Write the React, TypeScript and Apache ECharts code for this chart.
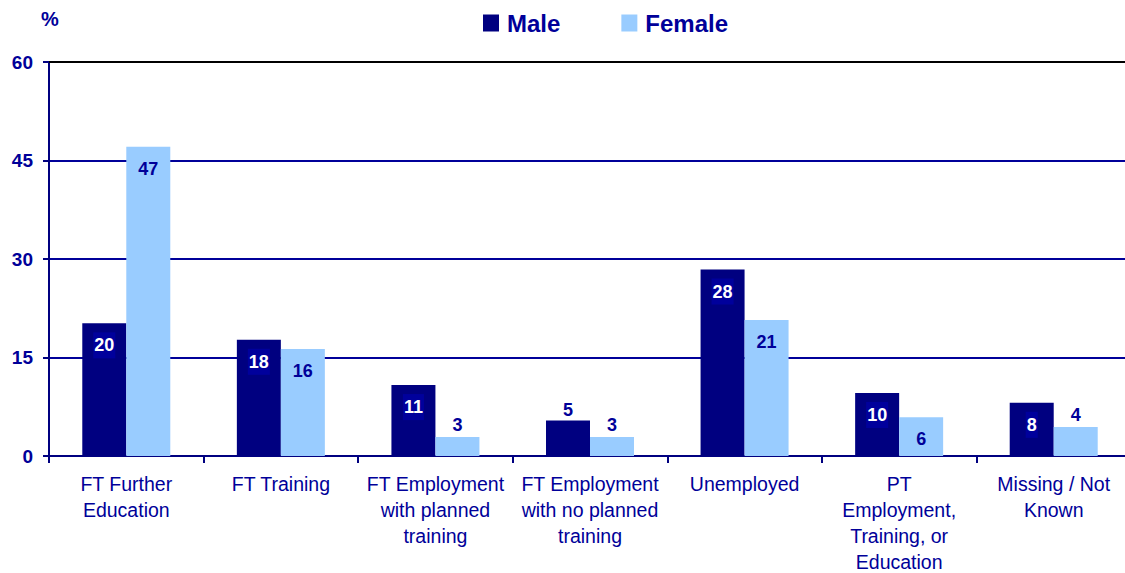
import React, { useEffect, useRef } from "react";
import * as echarts from "echarts";

const categories = [
  "FT Further\nEducation",
  "FT Training",
  "FT Employment\nwith planned\ntraining",
  "FT Employment\nwith no planned\ntraining",
  "Unemployed",
  "PT\nEmployment,\nTraining, or\nEducation",
  "Missing / Not\nKnown",
];
const maleValues = [20.2, 17.7, 10.8, 5.4, 28.4, 9.6, 8.1];
const femaleValues = [47.1, 16.3, 2.9, 2.9, 20.7, 5.9, 4.4];
const maleOutside = [false, false, false, true, false, false, false];
const femaleOutside = [false, false, true, true, false, false, true];
const yTicks = [0, 15, 30, 45, 60];
const yMax = 60;

const NAVY = "#000080";
const TEXT = "#000099";
const LIGHT = "#99CCFF";
const FONT = "Liberation Sans";

export default function App() {
  const ref = useRef<HTMLDivElement>(null);
  useEffect(() => {
    const chart = echarts.init(ref.current!, null, { renderer: "svg" });
    const insideLabel = (color: string, bg?: string) => ({
      show: true,
      position: "insideTop",
      distance: 9,
      color,
      fontSize: 18,
      fontWeight: "bold",
      fontFamily: FONT,
      lineHeight: 18,
      padding: [4, 1],
      backgroundColor: bg || "transparent",
      formatter: (p: any) => String(Math.round(p.value)),
    });
    const outsideLabel = (d: number) => ({
      show: true,
      position: "top",
      distance: d,
      color: TEXT,
      fontSize: 18,
      fontWeight: "bold",
      fontFamily: FONT,
      lineHeight: 18,
      padding: 0,
      backgroundColor: "transparent",
      formatter: (p: any) => String(Math.round(p.value)),
    });
    chart.setOption({
      animation: false,
      textStyle: { fontFamily: FONT },
      legend: {
        left: 483,
        top: 11,
        padding: 0,
        icon: "rect",
        itemWidth: 16,
        itemHeight: 17,
        itemGap: 61,
        textStyle: {
          color: TEXT,
          fontSize: 24,
          fontWeight: "bold",
          fontFamily: FONT,
          padding: [0, 0, 0, 3],
        },
        data: ["Male", "Female"],
      },
      graphic: [
        {
          type: "text",
          left: 41,
          top: 9,
          style: {
            text: "%",
            fill: TEXT,
            fontSize: 20,
            fontWeight: "bold",
            fontFamily: FONT,
          },
        },
      ],
      grid: {
        left: 49,
        top: 62,
        width: 1082,
        height: 394,
        containLabel: false,
        outerBoundsMode: "none",
      },
      xAxis: {
        type: "category",
        data: categories,
        axisLine: { lineStyle: { color: NAVY, width: 2 } },
        axisTick: { show: true, length: 7, lineStyle: { color: NAVY, width: 2 } },
        axisLabel: {
          interval: 0,
          color: TEXT,
          fontSize: 19.5,
          fontFamily: FONT,
          lineHeight: 26,
          margin: 15,
          align: "center",
        },
      },
      yAxis: {
        type: "value",
        min: 0,
        max: yMax,
        interval: 15,
        axisLine: { show: true, lineStyle: { color: NAVY, width: 2 } },
        axisTick: { show: true, length: 6, lineStyle: { color: NAVY, width: 2 } },
        axisLabel: {
          color: TEXT,
          fontSize: 19,
          fontWeight: "bold",
          fontFamily: FONT,
          margin: 16,
          formatter: (v: number) => (yTicks.includes(v) ? String(v) : ""),
        },
        splitLine: {
          show: true,
          lineStyle: { color: "#000099", width: 2 },
        },
      },
      series: [
        {
          name: "Male",
          type: "bar",
          barWidth: 44,
          barGap: 0,
          itemStyle: { color: NAVY },
          data: maleValues.map((v, i) => ({
            value: v,
            label: maleOutside[i] ? outsideLabel(2) : insideLabel("#FFFFFF", "#00009C"),
          })),
          markLine: {
            silent: true,
            symbol: "none",
            label: { show: false },
            lineStyle: { color: "#000000", width: 2, type: "solid" },
            data: [{ yAxis: yMax }],
          },
        },
        {
          name: "Female",
          type: "bar",
          barWidth: 44,
          barGap: 0,
          itemStyle: { color: LIGHT },
          data: femaleValues.map((v, i) => ({
            value: v,
            label: femaleOutside[i] ? outsideLabel(3) : insideLabel(TEXT),
          })),
        },
      ],
    });
    return () => chart.dispose();
  }, []);
  return (
    <div
      ref={ref}
      style={{ position: "absolute", left: 0, top: 0, width: 1125, height: 573 }}
    />
  );
}
